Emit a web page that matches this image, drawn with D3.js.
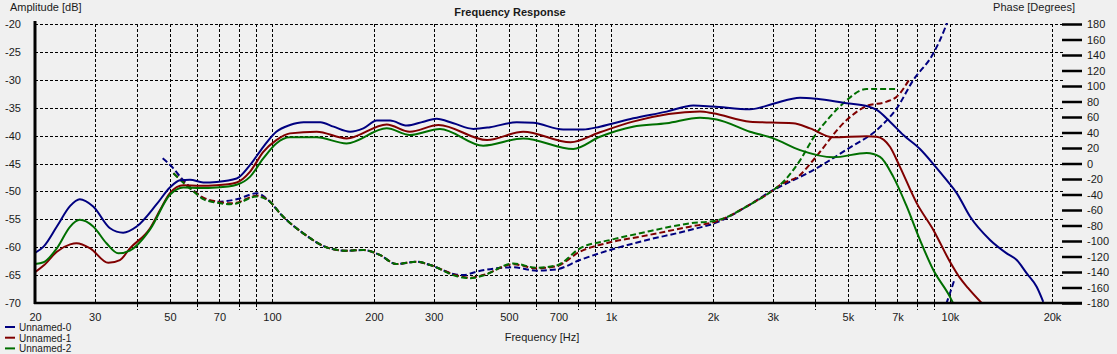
<!DOCTYPE html>
<html>
<head>
<meta charset="utf-8">
<script src="https://cdn.jsdelivr.net/npm/d3@7"></script>
<style>
  body { margin: 0; background: #f0f0f0; }
  text { font-family: "Liberation Sans", Arial, sans-serif; font-size: 11px; fill: #1a1a1a; }
</style>
</head>
<body>
<script>
// amplitude curves (Hz, dB)
var blueAmpFreq = [20, 21.2, 23.2, 25.4, 27.1, 29.7, 33.3, 36.4, 39.9, 45.7, 50, 53.6, 57.3, 62.7, 68.7, 78.7, 86.1, 94.3, 103, 113, 124, 139, 152, 170, 186, 204, 223, 250, 280, 306, 343, 393, 440, 527, 590, 723, 829, 928, 1164, 1460, 1750, 2004, 2570, 3013, 3612, 4046, 4958, 5680, 6080, 6654, 7286, 8158, 8934, 9780, 10470, 11460, 13130, 14700, 15740, 16850, 18020, 18850];
var blueAmp = [-61.0, -59.9, -56.3, -52.6, -51.4, -52.7, -56.6, -57.4, -56.3, -52.3, -49.3, -48.0, -47.9, -48.4, -48.3, -47.7, -45.3, -42.0, -39.3, -38.1, -37.6, -37.6, -38.4, -39.3, -38.7, -37.3, -37.3, -38.2, -37.5, -37.0, -37.8, -38.8, -38.5, -37.6, -37.7, -38.9, -38.9, -38.4, -36.9, -35.7, -34.6, -34.8, -35.3, -34.3, -33.2, -33.4, -34.2, -34.7, -35.4, -37.5, -39.9, -42.4, -45.1, -48.0, -50.3, -54.5, -58.7, -61.1, -62.3, -64.7, -67.1, -69.8];

var redAmpFreq = [20, 21.2, 23.2, 25.4, 26.5, 29.1, 32.9, 35.6, 38.1, 43.7, 46.8, 50, 54.8, 61.3, 68.7, 78.7, 86.1, 94.3, 103, 113, 135.5, 166, 218, 255, 310, 431, 551, 760, 928, 1161, 1831, 2000, 2570, 3444, 3866, 4518, 5680, 6080, 6654, 7120, 7978, 8934, 10000, 10700, 11300, 12400];
var redAmp = [-64.5, -63.3, -60.8, -59.5, -59.3, -60.2, -62.8, -62.3, -60.2, -56.6, -53.3, -50.3, -48.9, -49.0, -48.9, -48.4, -46.5, -42.9, -40.8, -39.6, -39.3, -40.5, -38.0, -39.3, -38.1, -40.8, -39.3, -41.2, -39.4, -37.5, -35.7, -36.0, -37.5, -37.8, -38.7, -40.3, -40.1, -40.2, -42.0, -45.6, -52.1, -56.9, -62.6, -65.5, -67.3, -70];

var greenAmpFreq = [20, 21.2, 23.2, 25.4, 27.1, 29.7, 32.5, 35.2, 38.1, 43.7, 50, 54.8, 61.3, 68.7, 78.7, 86.1, 94.3, 103, 113, 135.5, 166, 218, 255, 313, 420, 551, 774, 928, 1161, 1460, 1831, 2052, 2570, 3013, 3612, 4528, 5680, 6218, 6808, 7456, 8158, 8934, 10000, 10210];
var greenAmp = [-63.0, -62.7, -60.2, -56.3, -55.1, -56.3, -59.3, -61.1, -60.6, -56.8, -50.6, -49.3, -49.4, -49.3, -48.8, -47.4, -44.1, -41.4, -40.3, -40.3, -41.4, -38.7, -39.9, -38.8, -41.8, -40.5, -42.4, -40.2, -38.4, -37.8, -36.8, -37.1, -39.3, -40.5, -42.6, -43.9, -43.1, -43.8, -47.4, -52.7, -58.7, -64.1, -68.9, -70];

// phase curves (Hz, degrees, unwrapped)
var bluePhaseFreq = [47.6, 51.2, 53.6, 60, 62.7, 68.7, 78.7, 90.2, 98.7, 105.6, 123.7, 148, 166, 186, 208, 233, 267, 293, 351, 367, 401, 515, 604, 692, 810, 994, 1219, 1710, 2052, 2570, 3013, 3152, 3954, 4958, 6218, 6966, 7798, 8934, 9666, 10300];
var bluePhase = [6.7, -6.2, -17, -38.5, -45, -49.3, -46.2, -38.5, -49.3, -64.3, -90.1, -109.5, -112.5, -111.6, -118, -129.7, -126.7, -131, -143.5, -144, -139.6, -134, -138.3, -136.5, -124.5, -111.6, -100.9, -85.8, -76, -53, -34.2, -29.9, -8.4, 18, 47, 71.2, 107.7, 142.2, 174.5, 209.7];

var redPhaseFreq = [51.2, 53.6, 60, 62.7, 68.7, 75.2, 78.7, 90.2, 98.7, 105.6, 123.7, 148, 166, 186, 208, 233, 267, 293, 351, 384, 420, 515, 604, 692, 810, 994, 1219, 1710, 2052, 2570, 3013, 3152, 3612, 3954, 4958, 5680, 6508, 6966, 7622];
var redPhase = [-12.6, -20, -38.5, -44, -49, -51.4, -50.5, -41.5, -49.3, -64.3, -90.1, -109.5, -112.5, -111.6, -118, -129.7, -126.7, -131, -144.5, -147.4, -143.9, -130, -135.2, -132.3, -113.8, -101.7, -94.4, -81.5, -74.5, -53, -34.2, -27.7, -14.8, 4.5, 56.1, 74.2, 79.8, 86.2, 110];

var greenPhaseFreq = [51.2, 53.6, 60, 62.7, 68.7, 75.2, 78.7, 90.2, 98.7, 105.6, 123.7, 148, 166, 186, 208, 233, 267, 293, 351, 384, 420, 515, 604, 692, 810, 994, 1219, 1710, 2052, 2570, 3013, 3152, 3612, 3954, 4430, 4845, 5680, 6966];
var greenPhase = [-12.6, -21, -39.5, -46, -50.5, -52.5, -51.5, -42.5, -49.3, -64.3, -90.1, -109.5, -112.5, -111.6, -118, -129.7, -126.7, -131, -145.5, -148, -144.5, -129, -134.5, -131.5, -109.5, -98.7, -90, -77.2, -73.5, -53, -34.2, -27.7, 4, 33, 60.4, 77.7, 96.1, 96];

var seriesNames = ["Unnamed-0", "Unnamed-1", "Unnamed-2"];
var seriesColors = ["#000080", "#800000", "#006f00"];

var gridFreqs = [30, 40, 50, 60, 70, 80, 90, 100, 200, 300, 400, 500, 600, 700, 800, 900,
                 1000, 2000, 3000, 4000, 5000, 6000, 7000, 8000, 9000, 10000, 20000];
var labelFreqs = [20, 30, 50, 70, 100, 200, 300, 500, 700, 1000, 2000, 3000, 5000, 7000, 10000, 20000];
var labelText = ["20", "30", "50", "70", "100", "200", "300", "500", "700", "1k", "2k", "3k", "5k", "7k", "10k", "20k"];
var ampTicks = [-70, -65, -60, -55, -50, -45, -40, -35, -30, -25, -20];
var phaseTicks = d3.range(-180, 181, 20);

var width = 1117, height = 354;
var plotLeft = 35, plotTop = 24, plotBottom = 303, gridRight = 1065;

var svg = d3.select("body").append("svg")
    .attr("width", width)
    .attr("height", height);

var x = d3.scaleLog().domain([20, 20000]).range([plotLeft, 1052]);
var yA = d3.scaleLinear().domain([-70, -20]).range([plotBottom, plotTop]);
var yP = d3.scaleLinear().domain([-180, 180]).range([plotBottom, plotTop]);

svg.append("clipPath").attr("id", "plot")
  .append("rect")
    .attr("x", plotLeft).attr("y", plotTop - 1)
    .attr("width", gridRight - plotLeft).attr("height", plotBottom - plotTop + 1);

// grid
svg.selectAll(".hgrid")
    .data(ampTicks.filter(function(d) { return d > -70; }))
    .enter().append("line")
    .attr("class", "hgrid")
    .attr("x1", plotLeft).attr("x2", gridRight)
    .attr("y1", function(d) { return Math.round(yA(d)) + 0.5; })
    .attr("y2", function(d) { return Math.round(yA(d)) + 0.5; })
    .style("stroke", "#000").style("stroke-dasharray", "3,2");

svg.selectAll(".vgrid")
    .data(gridFreqs)
    .enter().append("line")
    .attr("class", "vgrid")
    .attr("x1", function(d) { return Math.round(x(d)) + 0.5; })
    .attr("x2", function(d) { return Math.round(x(d)) + 0.5; })
    .attr("y1", plotTop)
    .attr("y2", function(d) { return labelFreqs.indexOf(d) >= 0 ? plotBottom : plotBottom + 7; })
    .style("stroke", "#000").style("stroke-dasharray", "3,2");

// curves
var line = d3.line()
    .x(function(d) { return x(d[0]); })
    .y(function(d) { return d[1]; })
    .curve(d3.curveMonotoneX);

var plot = svg.append("g").attr("clip-path", "url(#plot)");

var phases = [[bluePhaseFreq, bluePhase], [redPhaseFreq, redPhase], [greenPhaseFreq, greenPhase]];
var amps = [[blueAmpFreq, blueAmp], [redAmpFreq, redAmp], [greenAmpFreq, greenAmp]];

// phase drawn twice so the part past +180 wraps to -180
[0, -360].forEach(function(off) {
  phases.forEach(function(p, i) {
    var pts = p[0].map(function(f, j) { return [f, yP(p[1][j] + off)]; });
    plot.append("path")
        .attr("d", line(pts))
        .style("fill", "none")
        .style("stroke", seriesColors[i])
        .style("stroke-width", 2)
        .style("stroke-dasharray", "6,3");
  });
});

amps.forEach(function(a, i) {
  var pts = a[0].map(function(f, j) { return [f, yA(a[1][j])]; });
  plot.append("path")
      .attr("d", line(pts))
      .style("fill", "none")
      .style("stroke", seriesColors[i])
      .style("stroke-width", 2);
});

// axes
var xAxis = svg.append("g")
    .attr("transform", "translate(0," + plotBottom + ")")
    .call(d3.axisBottom(x).tickValues(labelFreqs)
        .tickFormat(function(d, i) { return labelText[i]; })
        .tickSize(0).tickPadding(10));
xAxis.select(".domain").remove();

var yAxis = svg.append("g")
    .attr("transform", "translate(" + plotLeft + ",0)")
    .call(d3.axisLeft(yA).tickValues(ampTicks)
        .tickFormat(function(d) { return String(d); })
        .tickSize(0).tickPadding(14));
yAxis.select(".domain").remove();

var pAxis = svg.append("g")
    .attr("transform", "translate(1062,0)")
    .call(d3.axisRight(yP).tickValues(phaseTicks)
        .tickFormat(function(d) { return String(d); })
        .tickSize(20).tickPadding(5));
pAxis.select(".domain").remove();
pAxis.selectAll(".tick line").style("stroke", "#000").style("stroke-width", 2.5);

svg.selectAll(".tick text").style("font-family", "'Liberation Sans', Arial, sans-serif")
    .style("font-size", "11px").style("fill", "#1a1a1a");

svg.append("line")
    .attr("x1", plotLeft).attr("x2", plotLeft)
    .attr("y1", plotTop - 3).attr("y2", plotBottom + 1)
    .style("stroke", "#000").style("stroke-width", 3);
svg.append("line")
    .attr("x1", plotLeft - 1).attr("x2", 1082)
    .attr("y1", plotBottom).attr("y2", plotBottom)
    .style("stroke", "#000").style("stroke-width", 2.5);

// titles
svg.append("text").attr("x", 510).attr("y", 16)
    .attr("text-anchor", "middle").style("font-weight", "bold")
    .text("Frequency Response");
svg.append("text").attr("x", 10).attr("y", 11).text("Amplitude [dB]");
svg.append("text").attr("x", 1075).attr("y", 11)
    .attr("text-anchor", "end").text("Phase [Degrees]");
svg.append("text").attr("x", 542).attr("y", 341)
    .attr("text-anchor", "middle").text("Frequency [Hz]");

// legend
var legend = svg.selectAll(".legend")
    .data(seriesNames)
    .enter().append("g")
    .attr("class", "legend")
    .attr("transform", function(d, i) { return "translate(5," + (327 + i * 10.7) + ")"; });
legend.append("line")
    .attr("x1", 0).attr("x2", 10)
    .style("stroke", function(d, i) { return seriesColors[i]; })
    .style("stroke-width", 2);
legend.append("text")
    .attr("x", 14).attr("y", 4)
    .style("font-size", "10px")
    .text(function(d) { return d; });
</script>
</body>
</html>
